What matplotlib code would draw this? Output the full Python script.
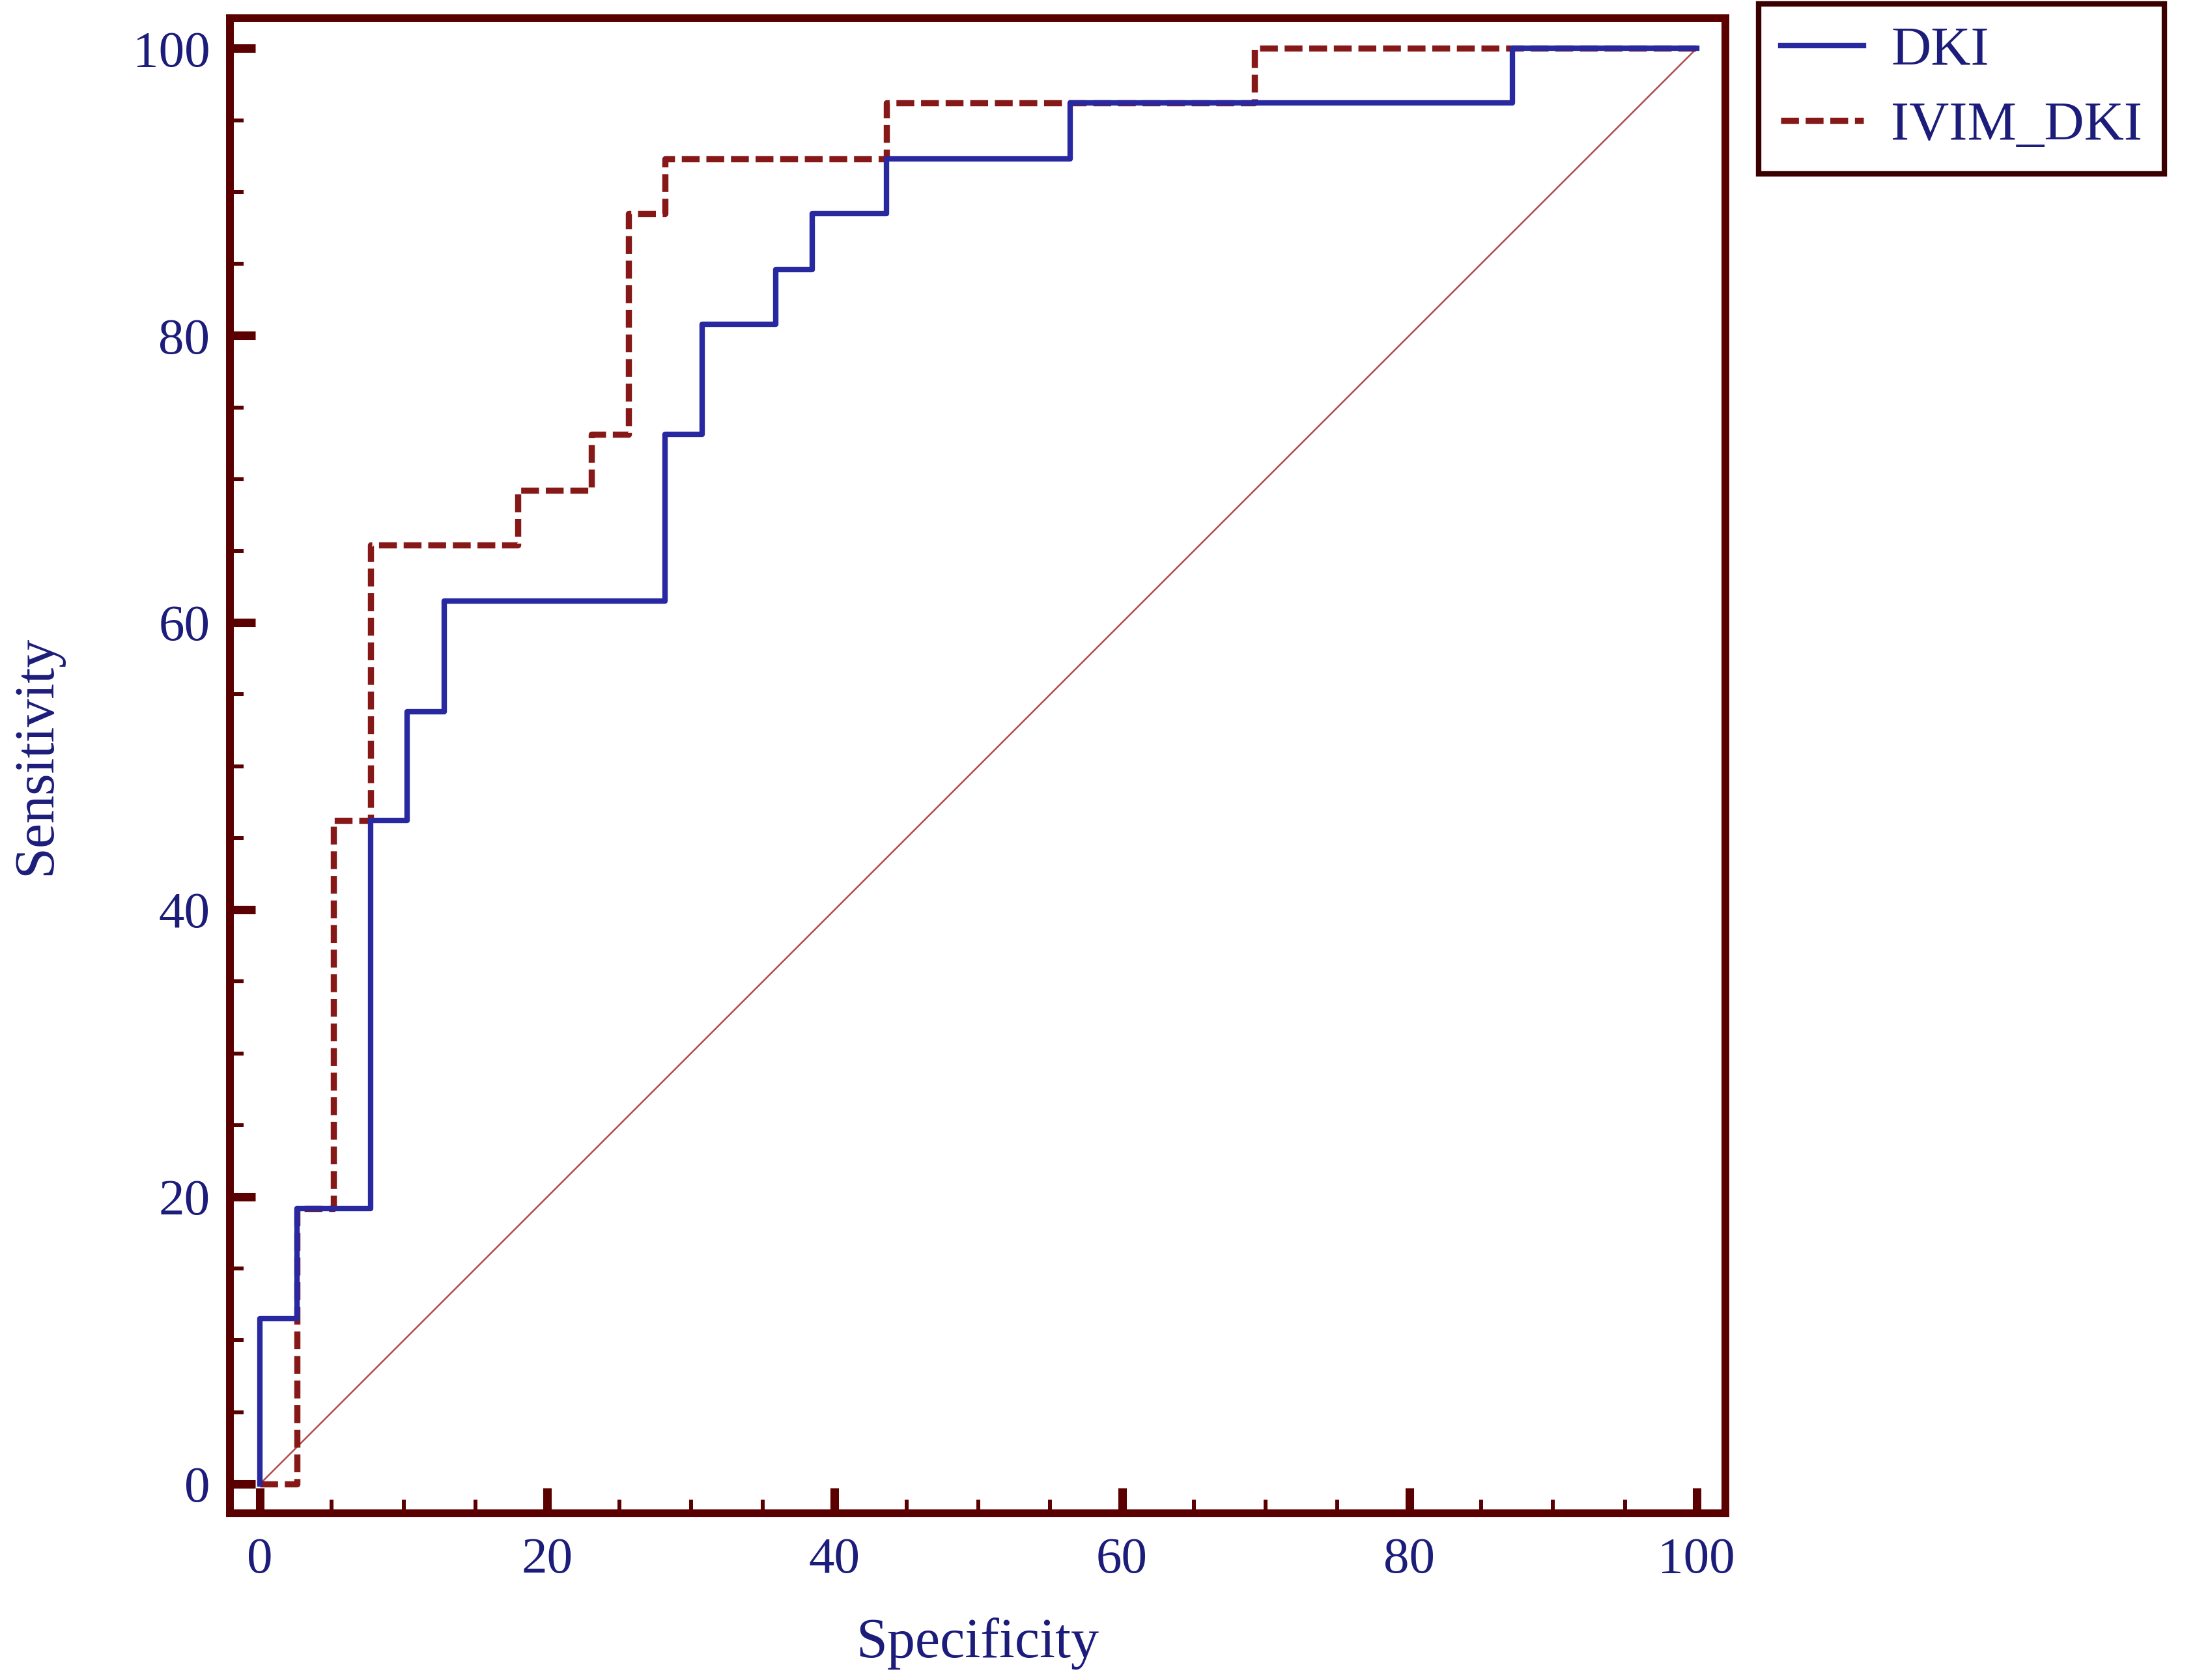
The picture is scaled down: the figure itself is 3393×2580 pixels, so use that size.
import matplotlib
matplotlib.use("Agg")
import matplotlib.pyplot as plt
from matplotlib.ticker import MultipleLocator

# ROC step points (x = 100 - specificity, y = sensitivity)
dki_x = [0, 0, 2.56, 7.69, 10.26, 12.82, 28.21, 30.77, 35.90, 38.46, 43.59, 56.41, 87.18, 100]
dki_y = [0, 11.5, 19.2, 46.2, 53.8, 61.5, 73.1, 80.8, 84.6, 88.5, 92.3, 96.2, 100, 100]

ivim_x = [0, 2.56, 5.13, 7.69, 17.95, 23.08, 25.64, 28.21, 43.59, 69.23, 100]
ivim_y = [0, 19.2, 46.2, 65.4, 69.2, 73.1, 88.5, 92.3, 96.2, 100, 100]

diag = [0, 100]
ticks = [0, 20, 40, 60, 80, 100]

frame_col = "#5a0000"
text_col = "#1c1c7a"
blue = "#2828a0"
red = "#861818"

plt.rcParams["font.family"] = ["Liberation Serif", "DejaVu Serif"]

fig = plt.figure(figsize=(33.93, 25.80), dpi=100)
ax = fig.add_axes([0.1040, 0.0992, 0.6767, 0.8899])

ax.plot(diag, diag, color="#b04848", lw=1.8, zorder=1)
ax.plot(dki_x, dki_y, drawstyle="steps-post", color=blue, lw=6.0, label="DKI", zorder=3)
ax.plot(ivim_x, ivim_y, drawstyle="steps-post", color=red, lw=6.8,
        dashes=(2.9, 1.1), label="IVIM_DKI", zorder=2)

ax.set_xlim(-2.1, 102)
ax.set_ylim(-2.05, 102.1)
ax.set_xticks(ticks)
ax.set_yticks(ticks)
ax.xaxis.set_minor_locator(MultipleLocator(5))
ax.yaxis.set_minor_locator(MultipleLocator(5))

for s in ax.spines.values():
    s.set_linewidth(8.6)
    s.set_color(frame_col)

ax.tick_params(which="major", direction="in", length=28, width=9.4, color=frame_col,
               labelcolor=text_col, labelsize=57)
ax.tick_params(axis="x", which="major", pad=26)
ax.tick_params(axis="y", which="major", pad=22)
ax.tick_params(which="minor", direction="in", length=15, width=4.3, color=frame_col)

ax.set_xlabel("Specificity", fontsize=62, color=text_col, va="center")
ax.set_ylabel("Sensitivity", fontsize=62, color=text_col, va="center")
ax.xaxis.set_label_coords(0.5, -0.087)
ax.yaxis.set_label_coords(-0.129, 0.507)

leg = ax.legend(loc="upper left", bbox_to_anchor=(2700 / 3393, 1 - 6 / 2580),
                bbox_transform=fig.transFigure, borderaxespad=0, fancybox=False,
                framealpha=1, edgecolor="#3a0000", fontsize=61, handlelength=1.5,
                handletextpad=0.5, labelspacing=0.45, borderpad=0.4)
leg.get_frame().set_linewidth(6)
for t in leg.get_texts():
    t.set_color(text_col)

fig.savefig("out.png", dpi=100, facecolor="white")
